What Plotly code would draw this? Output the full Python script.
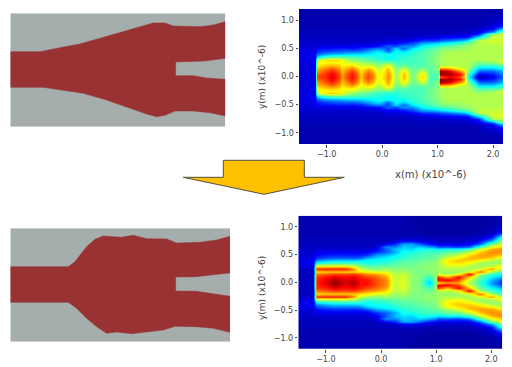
import plotly.graph_objects as go

W, H = 512, 367

# ---------- data ----------
y_rows = [0, .05, .1, .15, .2, .25, .3, .35, .4, .45, .5, .55, .6, .65, .7, .75, .8, .85, .9, 1.0, 1.2]

top_x = [-1.5, -1.22, -1.18, -1.05, -0.9, -0.78, -0.72, -0.65, -0.55, -0.45, -0.38, -0.32, -0.25, -0.16, -0.08,
         0.02, 0.1, 0.18, 0.25, 0.33, 0.4, 0.47, 0.55, 0.65, 0.72, 0.8, 0.87, 1.0,
         1.05, 1.2, 1.4, 1.47, 1.55, 1.75, 2.0, 2.2]
top_cols = [
    [7, 7, 7, 7, 7, 8, 8, 8, 8, 8, 8, 7, 7, 6, 6, 5, 5, 5, 4, 4, 4],
    [9, 9, 9, 9, 9, 10, 10, 10, 10, 9, 8, 7, 7, 6, 6, 5, 5, 5, 4, 4, 4],
    [84, 80, 75, 71, 66, 62, 58, 32, 20, 14, 11, 8, 7, 6, 6, 5, 5, 5, 4, 4, 4],
    [84, 83, 80, 75, 69, 65, 67, 42, 25, 16, 12, 9, 7, 6, 6, 5, 5, 5, 4, 4, 4],
    [91, 90, 86, 80, 71, 65, 70, 46, 27, 18, 12, 9, 7, 6, 6, 5, 5, 5, 4, 4, 4],
    [84, 82, 79, 74, 69, 65, 68, 46, 28, 19, 13, 9, 7, 6, 6, 5, 5, 5, 4, 4, 4],
    [74, 73, 71, 68, 65, 62, 64, 46, 29, 19, 13, 9, 7, 6, 6, 5, 5, 5, 4, 4, 4],
    [81, 80, 76, 72, 66, 60, 58, 45, 30, 20, 13, 9, 7, 6, 6, 5, 5, 5, 4, 4, 4],
    [88, 87, 83, 76, 67, 59, 53, 43, 31, 20, 12, 9, 7, 6, 6, 5, 5, 5, 4, 4, 4],
    [81, 79, 76, 70, 63, 56, 50, 42, 31, 21, 13, 10, 7, 6, 6, 5, 5, 5, 4, 4, 4],
    [70, 69, 67, 64, 59, 54, 48, 41, 31, 22, 14, 10, 7, 6, 6, 5, 5, 5, 4, 4, 4],
    [77, 76, 72, 67, 60, 53, 47, 41, 32, 24, 15, 10, 8, 6, 6, 5, 5, 5, 4, 4, 4],
    [83, 81, 77, 70, 60, 52, 45, 41, 33, 26, 18, 10, 8, 6, 6, 5, 5, 5, 4, 4, 4],
    [76, 75, 71, 65, 57, 49, 43, 39, 34, 29, 20, 11, 8, 6, 6, 5, 5, 5, 4, 4, 4],
    [63, 63, 61, 58, 52, 46, 41, 38, 36, 32, 22, 12, 8, 6, 6, 5, 5, 5, 4, 4, 4],
    [67, 67, 65, 62, 56, 46, 40, 36, 36, 28, 20, 16, 10, 7, 6, 5, 5, 5, 4, 4, 4],
    [76, 75, 73, 70, 62, 47, 39, 35, 36, 20, 17, 20, 11, 8, 6, 5, 5, 5, 4, 4, 4],
    [67, 66, 64, 61, 54, 45, 39, 35, 36, 28, 24, 19, 11, 8, 6, 5, 5, 5, 4, 4, 4],
    [53, 53, 51, 49, 45, 41, 38, 37, 36, 35, 30, 18, 11, 8, 6, 5, 5, 5, 4, 4, 4],
    [63, 62, 59, 53, 46, 42, 40, 38, 36, 32, 24, 22, 13, 8, 6, 5, 5, 5, 4, 4, 4],
    [72, 71, 67, 57, 46, 43, 42, 40, 36, 30, 20, 24, 14, 8, 6, 5, 5, 5, 4, 4, 4],
    [60, 59, 56, 50, 44, 42, 41, 41, 38, 34, 26, 24, 16, 9, 6, 5, 5, 5, 4, 4, 4],
    [48, 48, 47, 45, 43, 42, 42, 42, 40, 38, 32, 24, 18, 10, 7, 5, 5, 5, 4, 4, 4],
    [60, 58, 53, 46, 43, 43, 43, 43, 42, 40, 35, 30, 22, 12, 7, 6, 5, 5, 4, 4, 4],
    [69, 67, 60, 49, 44, 44, 44, 44, 43, 42, 38, 34, 26, 14, 8, 6, 5, 5, 4, 4, 4],
    [56, 55, 51, 46, 45, 46, 46, 46, 45, 44, 40, 36, 27, 15, 8, 6, 5, 5, 4, 4, 4],
    [43, 43, 44, 46, 47, 48, 48, 48, 47, 46, 43, 38, 28, 15, 8, 6, 5, 5, 4, 4, 4],
    [44, 46, 50, 50, 51, 52, 52, 52, 50, 49, 46, 40, 30, 16, 9, 6, 5, 5, 4, 4, 4],
    [80, 97, 98, 74, 54, 54, 54, 54, 54, 52, 49, 43, 32, 18, 10, 7, 5, 5, 4, 4, 4],
    [90, 97, 92, 72, 56, 56, 56, 56, 56, 54, 50, 46, 36, 20, 11, 7, 5, 5, 4, 4, 4],
    [82, 88, 76, 60, 56, 56, 56, 56, 56, 55, 52, 50, 42, 24, 12, 8, 6, 5, 4, 4, 4],
    [70, 76, 68, 58, 56, 56, 56, 56, 56, 55, 53, 52, 44, 26, 12, 8, 6, 5, 4, 4, 4],
    [36, 42, 50, 55, 56, 56, 56, 56, 56, 56, 54, 53, 48, 32, 14, 8, 6, 5, 4, 4, 4],
    [3, 10, 20, 30, 42, 50, 54, 56, 56, 56, 56, 56, 58, 56, 34, 15, 10, 7, 5, 4, 4],
    [10, 14, 20, 30, 42, 52, 56, 56, 56, 56, 56, 56, 58, 60, 60, 54, 24, 12, 8, 5, 4],
    [20, 24, 28, 38, 46, 62, 58, 56, 56, 56, 56, 57, 58, 60, 60, 58, 56, 32, 15, 7, 4],
]

bot_x = [-1.5, -1.22, -1.18, -1.0, -0.85, -0.65, -0.5, -0.38, -0.25, -0.1, 0.1, 0.25, 0.4, 0.55, 0.7, 0.87, 1.0,
         1.03, 1.2, 1.4, 1.6, 1.8, 2.0, 2.2]
bot_cols = [
    [5, 5, 5, 5, 5, 6, 8, 8, 8, 8, 7, 7, 6, 6, 5, 5, 5, 4, 4, 4, 4],
    [6, 6, 6, 6, 6, 7, 9, 11, 11, 9, 8, 7, 6, 6, 5, 5, 5, 4, 4, 4, 4],
    [86, 86, 84, 78, 68, 85, 62, 36, 22, 15, 11, 9, 7, 6, 5, 5, 5, 4, 4, 4, 4],
    [92, 90, 87, 80, 70, 86, 64, 40, 26, 18, 13, 9, 7, 6, 5, 5, 5, 4, 4, 4, 4],
    [99, 96, 91, 83, 70, 86, 64, 42, 28, 19, 14, 9, 7, 6, 5, 5, 5, 4, 4, 4, 4],
    [92, 91, 88, 82, 70, 86, 64, 42, 28, 19, 14, 9, 7, 6, 5, 5, 5, 4, 4, 4, 4],
    [96, 94, 90, 83, 70, 76, 58, 42, 28, 19, 13, 9, 7, 6, 5, 5, 5, 4, 4, 4, 4],
    [88, 88, 86, 80, 68, 58, 50, 40, 30, 20, 14, 9, 7, 6, 5, 5, 5, 4, 4, 4, 4],
    [88, 87, 83, 75, 66, 54, 44, 36, 34, 26, 16, 10, 7, 6, 5, 5, 5, 4, 4, 4, 4],
    [82, 82, 80, 74, 62, 50, 45, 38, 36, 30, 24, 14, 9, 7, 5, 5, 5, 4, 4, 4, 4],
    [76, 76, 73, 68, 60, 54, 46, 40, 36, 34, 28, 20, 20, 24, 10, 6, 5, 4, 4, 4, 4],
    [58, 58, 57, 56, 54, 50, 47, 44, 40, 36, 32, 26, 28, 22, 14, 7, 5, 4, 4, 4, 4],
    [62, 62, 61, 59, 55, 52, 48, 46, 44, 40, 38, 36, 32, 30, 26, 10, 6, 4, 4, 4, 4],
    [52, 52, 52, 52, 51, 50, 48, 46, 44, 42, 40, 36, 30, 28, 26, 11, 6, 4, 4, 4, 3],
    [50, 50, 50, 50, 50, 50, 50, 48, 46, 44, 42, 40, 36, 30, 20, 9, 6, 4, 4, 3, 3],
    [28, 33, 42, 48, 50, 52, 52, 50, 48, 46, 44, 42, 36, 26, 12, 7, 5, 4, 3, 3, 3],
    [52, 54, 54, 52, 52, 52, 52, 52, 50, 48, 46, 42, 34, 22, 10, 7, 5, 4, 3, 3, 3],
    [66, 90, 86, 58, 54, 54, 54, 54, 54, 50, 46, 42, 32, 18, 9, 6, 5, 4, 3, 3, 3],
    [76, 90, 72, 56, 52, 56, 60, 66, 66, 60, 52, 46, 35, 18, 10, 6, 5, 4, 3, 3, 3],
    [72, 82, 90, 62, 53, 56, 62, 68, 70, 66, 58, 48, 34, 16, 9, 6, 5, 4, 3, 3, 3],
    [56, 60, 70, 90, 60, 55, 56, 64, 70, 72, 68, 58, 42, 20, 10, 7, 5, 4, 3, 3, 3],
    [40, 42, 46, 55, 80, 60, 53, 55, 66, 72, 74, 70, 60, 42, 20, 12, 7, 5, 4, 3, 3],
    [25, 28, 34, 42, 55, 75, 56, 52, 58, 70, 74, 76, 72, 62, 46, 26, 13, 8, 5, 4, 3],
    [14, 18, 26, 34, 42, 55, 66, 55, 52, 60, 70, 75, 76, 70, 64, 52, 42, 26, 13, 6, 4],
]

device_top_x = [31, 120, 180, 240, 300, 360, 420, 460, 495, 520, 600, 640, 676, 676, 615, 580, 527, 527, 580, 620, 676,
                676, 630, 580, 525, 495, 470, 440, 380, 320, 250, 190, 130, 31]
device_top_y = [125, 125, 113, 102, 85, 67, 50, 39, 39, 48, 50, 45, 35, 145, 153, 155, 156, 197, 197, 204, 208,
                318, 308, 303, 303, 316, 320, 312, 290, 270, 250, 240, 232, 232]
device_bot_x = [31, 205, 225, 260, 285, 310, 340, 365, 400, 440, 500, 530, 600, 650, 690, 690, 640, 590, 527, 527, 590, 640, 690,
                690, 640, 590, 525, 490, 440, 395, 350, 320, 290, 260, 230, 205, 31]
device_bot_y = [350, 350, 335, 290, 268, 258, 260, 262, 256, 266, 267, 279, 277, 270, 259, 369, 374, 380, 381, 423, 424, 432, 439,
                547, 535, 530, 529, 540, 545, 551, 546, 550, 530, 505, 475, 457, 457]
arrow_x = [183.3, 223.3, 223.3, 304.3, 304.3, 344.3, 264]
arrow_y = [177.3, 177.3, 160.3, 160.3, 177.3, 177.3, 194.3]

x_ticks = [-1.0, 0.0, 1.0, 2.0]
y_ticks = [-1.0, -0.5, 0.0, 0.5, 1.0]

JET = [[0, "#00007F"], [.11, "#0000FF"], [.34, "#00FFFF"], [.5, "#80FF80"],
       [.65, "#FFFF00"], [.89, "#FF0000"], [1, "#7F0000"]]
GRAY, RED = "#A6ADAD", "#993333"
TXT = "#444444"


def grid(cols):
    rows_up = [[c[i] / 100 for c in cols] for i in range(len(y_rows))]
    return rows_up[:0:-1] + rows_up


def full_y():
    return [-v for v in y_rows[:0:-1]] + y_rows


def dom_x(a, b):
    return [a / W, b / W]


def dom_y(a, b):
    return [1 - b / H, 1 - a / H]


fig = go.Figure()


def device(n, xs, ys, box, rx, ry):
    fig.add_trace(go.Scatter(x=xs, y=ys, xaxis=f"x{n}", yaxis=f"y{n}", mode="lines", fill="toself",
                             fillcolor=RED, line=dict(color=RED, width=0.5), hoverinfo="skip"))
    fig.layout[f"xaxis{n}"] = dict(domain=dom_x(box[0], box[1]), range=rx, visible=False, anchor=f"y{n}")
    fig.layout[f"yaxis{n}"] = dict(domain=dom_y(box[2], box[3]), range=ry, visible=False, anchor=f"x{n}")
    fig.add_shape(type="rect", xref=f"x{n}", yref=f"y{n}", x0=rx[0], x1=rx[1], y0=ry[0], y1=ry[1],
                  fillcolor=GRAY, line_width=0, layer="below")


def field(n, xs, cols, box, rx):
    fig.add_trace(go.Heatmap(x=xs, y=full_y(), z=grid(cols), xaxis=f"x{n}", yaxis=f"y{n}", colorscale=JET,
                             zmin=0, zmax=1, zsmooth="best", showscale=False, hoverinfo="skip"))
    common = dict(ticks="outside", ticklen=2.5, tickwidth=1, tickcolor=TXT, showgrid=False, zeroline=False,
                  tickfont=dict(family="DejaVu Sans", size=8, color=TXT), tickformat=".1f", showline=False)
    fig.layout[f"xaxis{n}"] = dict(domain=dom_x(box[0], box[1]), range=rx, tickvals=x_ticks, anchor=f"y{n}", **common)
    fig.layout[f"yaxis{n}"] = dict(domain=dom_y(box[2], box[3]), range=[-1.2, 1.2], tickvals=y_ticks, anchor=f"x{n}", **common)


device(1, device_top_x, device_top_y, (10.3, 225.3, 13.3, 126.7), [31, 676], [350, 10])
field(2, top_x, top_cols, (299, 503, 9, 144), [-1.5, 2.18])
device(3, device_bot_x, device_bot_y, (10.3, 230, 228.3, 341.7), [31, 690], [575, 235])
field(4, bot_x, bot_cols, (298.3, 502.3, 215.7, 349), [-1.5, 2.2])

fig.add_trace(go.Scatter(x=arrow_x + arrow_x[:1], y=arrow_y + arrow_y[:1], xaxis="x5", yaxis="y5", mode="lines",
                         fill="toself", fillcolor="#FFC000", line=dict(color="#55503a", width=1), hoverinfo="skip"))
fig.layout["xaxis5"] = dict(domain=[0, 1], range=[0, W], visible=False, anchor="y5")
fig.layout["yaxis5"] = dict(domain=[0, 1], range=[H, 0], visible=False, anchor="x5")

annos = [
    dict(text="y(m) (x10^-6)", x=262 / W, y=1 - 77 / H, textangle=-90, font=dict(family="DejaVu Sans", size=9, color=TXT)),
    dict(text="y(m) (x10^-6)", x=262 / W, y=1 - 288 / H, textangle=-90, font=dict(family="DejaVu Sans", size=9, color=TXT)),
    dict(text="x(m) (x10^-6)", x=431 / W, y=1 - 174 / H, textangle=0, font=dict(family="DejaVu Sans", size=10, color=TXT)),
]
for a in annos:
    fig.add_annotation(xref="paper", yref="paper", showarrow=False, xanchor="center", yanchor="middle", **a)

fig.update_layout(width=W, height=H, margin=dict(l=0, r=0, t=0, b=0), paper_bgcolor="white",
                  plot_bgcolor="rgba(0,0,0,0)", showlegend=False)

fig.write_html("out.html", config=dict(displayModeBar=False),
               post_script="document.body.style.margin='0';")
